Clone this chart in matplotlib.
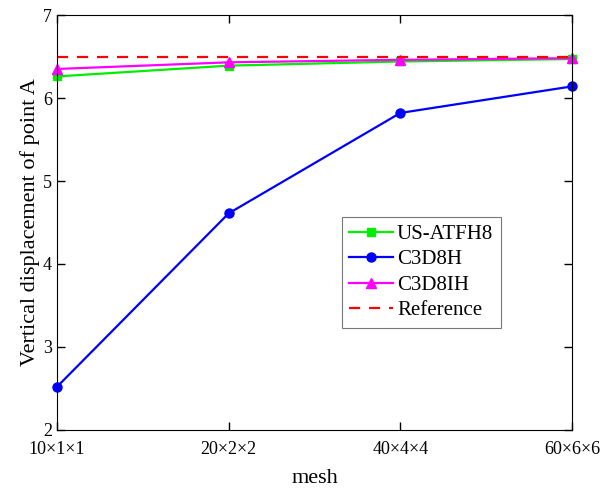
import numpy as np
import matplotlib.pyplot as plt

plt.rcParams['font.family'] = ['Liberation Serif', 'DejaVu Serif']

# mesh sizes and vertical displacement results
meshes = ['10×1×1', '20×2×2', '40×4×4', '60×6×6']
us_atfh8 = [6.26, 6.39, 6.44, 6.47]
c3d8h = [2.52, 4.61, 5.82, 6.14]
c3d8ih = [6.35, 6.43, 6.46, 6.48]
reference = [6.49, 6.49, 6.49, 6.49]

x = np.arange(len(meshes))

fig = plt.figure(figsize=(6.03, 4.94), dpi=100)
ax = fig.add_axes([0.0945, 0.1296, 0.8541, 0.84])

ax.plot(x, us_atfh8, color='#00ee00', marker='s', markersize=6, lw=1.6, label='US-ATFH8', clip_on=False)
ax.plot(x, c3d8h, color='#0000ff', marker='o', markersize=6.5, lw=1.6, label='C3D8H', clip_on=False)
ax.plot(x, c3d8ih, color='#ff00ff', marker='^', markersize=7, lw=1.6, label='C3D8IH', clip_on=False)
ax.plot(x, reference, color='#ff0000', ls=(0, (5, 4)), lw=1.6, label='Reference')

ax.set_xlim(0, 3)
ax.set_ylim(2, 7)
ax.set_xticks(x)
ax.set_xticklabels(meshes)
ax.set_yticks([2, 3, 4, 5, 6, 7])
ax.tick_params(direction='in', top=True, right=True, labelsize=13, length=6, width=1)
ax.tick_params(axis='x', pad=8)

ax.set_xlabel('mesh', fontsize=16, labelpad=8)
ax.set_ylabel('Vertical displacement of point A', fontsize=16, labelpad=2)

leg = ax.legend(loc='upper left', bbox_to_anchor=(0.553, 0.513), fontsize=15,
                frameon=True, fancybox=False, edgecolor='#555555',
                handlelength=2.1, borderpad=0.35, labelspacing=0.28, handletextpad=0.2, borderaxespad=0)
leg.get_frame().set_linewidth(0.8)

fig.savefig('out.png', dpi=100)
